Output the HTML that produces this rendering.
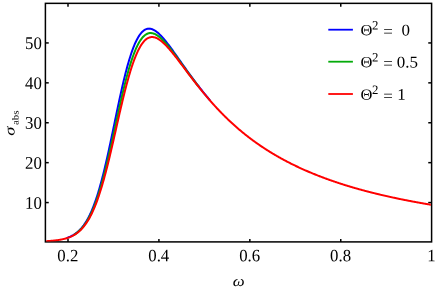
<!DOCTYPE html>
<html><head><meta charset="utf-8"><style>
html,body{margin:0;padding:0;background:#fff;}
body{width:436px;height:290px;overflow:hidden;}
svg{display:block;will-change:transform;}
text{text-rendering:geometricPrecision;font-family:"Liberation Serif",serif;font-size:17.3px;fill:#000;}
</style></head><body>
<svg width="436" height="290" viewBox="0 0 436 290">
<rect width="436" height="290" fill="#fff"/>
<defs><clipPath id="c"><rect x="46.15" y="3.35" width="384.70" height="238.25"/></clipPath></defs>
<g stroke="#000" stroke-width="1.5" fill="none">
<rect x="45.4" y="3.35" width="386.20" height="238.55"/>
<line x1="68.00" y1="241.9" x2="68.00" y2="239.0"/>
<line x1="68.00" y1="3.35" x2="68.00" y2="6.7"/>
<line x1="158.92" y1="241.9" x2="158.92" y2="239.0"/>
<line x1="158.92" y1="3.35" x2="158.92" y2="6.7"/>
<line x1="249.84" y1="241.9" x2="249.84" y2="239.0"/>
<line x1="249.84" y1="3.35" x2="249.84" y2="6.7"/>
<line x1="340.76" y1="241.9" x2="340.76" y2="239.0"/>
<line x1="340.76" y1="3.35" x2="340.76" y2="6.7"/>
<line x1="45.4" y1="202.57" x2="48.75" y2="202.57"/>
<line x1="431.6" y1="202.57" x2="428.25" y2="202.57"/>
<line x1="45.4" y1="162.66" x2="48.75" y2="162.66"/>
<line x1="431.6" y1="162.66" x2="428.25" y2="162.66"/>
<line x1="45.4" y1="122.76" x2="48.75" y2="122.76"/>
<line x1="431.6" y1="122.76" x2="428.25" y2="122.76"/>
<line x1="45.4" y1="82.85" x2="48.75" y2="82.85"/>
<line x1="431.6" y1="82.85" x2="428.25" y2="82.85"/>
<line x1="45.4" y1="42.94" x2="48.75" y2="42.94"/>
<line x1="431.6" y1="42.94" x2="428.25" y2="42.94"/>
</g>
<g fill="none" stroke-width="2" stroke-linejoin="round" clip-path="url(#c)">
<path stroke="#0000ff" d="M66.50,238.07 L67.06,237.88 L67.61,237.68 L68.17,237.48 L68.72,237.26 L69.27,237.04 L69.83,236.80 L70.38,236.55 L70.93,236.29 L71.49,236.01 L72.04,235.72 L72.60,235.42 L73.15,235.10 L73.70,234.76 L74.26,234.41 L74.81,234.04 L75.37,233.66 L75.92,233.25 L76.47,232.83 L77.03,232.39 L77.58,231.93 L78.14,231.44 L78.69,230.94 L79.24,230.41 L79.80,229.85 L80.35,229.28 L80.91,228.67 L81.46,228.05 L82.01,227.39 L82.57,226.71 L83.12,226.00 L83.68,225.26 L84.23,224.49 L84.78,223.69 L85.34,222.86 L85.89,221.99 L86.45,221.09 L87.00,220.16 L87.55,219.19 L88.11,218.18 L88.66,217.14 L89.21,216.06 L89.77,214.94 L90.32,213.77 L90.88,212.57 L91.43,211.33 L91.98,210.04 L92.54,208.71 L93.09,207.34 L93.65,205.92 L94.20,204.46 L94.75,202.95 L95.31,201.40 L95.86,199.80 L96.42,198.16 L96.97,196.47 L97.52,194.73 L98.08,192.95 L98.63,191.12 L99.19,189.25 L99.74,187.33 L100.29,185.37 L100.85,183.36 L101.40,181.31 L101.96,179.22 L102.51,177.09 L103.06,174.91 L103.62,172.69 L104.17,170.44 L104.72,168.14 L105.28,165.81 L105.83,163.44 L106.39,161.04 L106.94,158.61 L107.49,156.14 L108.05,153.65 L108.60,151.12 L109.16,148.58 L109.71,146.01 L110.26,143.41 L110.82,140.80 L111.37,138.17 L111.93,135.53 L112.48,132.88 L113.03,130.21 L113.59,127.54 L114.14,124.87 L114.70,122.19 L115.25,119.51 L115.80,116.84 L116.36,114.18 L116.91,111.52 L117.47,108.88 L118.02,106.25 L118.57,103.64 L119.13,101.05 L119.68,98.48 L120.24,95.94 L120.79,93.42 L121.34,90.93 L121.90,88.48 L122.45,86.06 L123.00,83.67 L123.56,81.32 L124.11,79.01 L124.67,76.75 L125.22,74.52 L125.77,72.35 L126.33,70.21 L126.88,68.13 L127.44,66.09 L127.99,64.11 L128.54,62.17 L129.10,60.29 L129.65,58.46 L130.21,56.68 L130.76,54.96 L131.31,53.30 L131.87,51.68 L132.42,50.13 L132.98,48.63 L133.53,47.19 L134.08,45.80 L134.64,44.47 L135.19,43.20 L135.75,41.98 L136.30,40.82 L136.85,39.72 L137.41,38.67 L137.96,37.68 L138.51,36.74 L139.07,35.85 L139.62,35.03 L140.18,34.25 L140.73,33.53 L141.28,32.86 L141.84,32.25 L142.39,31.68 L142.95,31.17 L143.50,30.71 L144.05,30.29 L144.61,29.93 L145.16,29.61 L145.72,29.34 L146.27,29.11 L146.82,28.93 L147.38,28.79 L147.93,28.69 L148.49,28.64 L149.04,28.62 L149.59,28.64 L150.15,28.70 L150.70,28.80 L151.26,28.93 L151.81,29.10 L152.36,29.30 L152.92,29.53 L153.47,29.79 L154.03,30.08 L154.58,30.40 L155.13,30.75 L155.69,31.12 L156.24,31.52 L156.79,31.94 L157.35,32.38 L157.90,32.85 L158.46,33.34 L159.01,33.85 L159.56,34.37 L160.12,34.92 L160.67,35.48 L161.23,36.06 L161.78,36.65 L162.33,37.26 L162.89,37.88 L163.44,38.52 L164.00,39.17 L164.55,39.83 L165.10,40.50 L165.66,41.18 L166.21,41.87 L166.77,42.57 L167.32,43.28 L167.87,43.99 L168.43,44.71 L168.98,45.44 L169.54,46.18 L170.09,46.92 L170.64,47.67 L171.20,48.43 L171.75,49.18 L172.30,49.94 L172.86,50.71 L173.41,51.48 L173.97,52.25 L174.52,53.03 L175.07,53.80 L175.63,54.58 L176.18,55.37 L176.74,56.15 L177.29,56.93 L177.84,57.72 L178.40,58.51 L178.95,59.29 L179.51,60.08 L180.06,60.87 L180.61,61.65 L181.17,62.44 L181.72,63.23 L182.28,64.01 L182.83,64.80 L183.38,65.58 L183.94,66.36 L184.49,67.15 L185.05,67.93 L185.60,68.70 L186.15,69.48 L186.71,70.26 L187.26,71.03 L187.82,71.80 L188.37,72.57 L188.92,73.33 L189.48,74.10 L190.03,74.86 L190.58,75.62 L191.14,76.38 L191.69,77.13 L192.25,77.88 L192.80,78.63 L193.35,79.38 L193.91,80.12 L194.46,80.86 L195.02,81.60 L195.57,82.33 L196.12,83.06 L196.68,83.79 L197.23,84.51 L197.79,85.23 L198.34,85.95 L198.89,86.67 L199.45,87.38 L200.00,88.09 L200.56,88.79 L201.11,89.49 L201.66,90.19 L202.22,90.89 L202.77,91.58 L203.33,92.27 L203.88,92.95 L204.43,93.63 L204.99,94.31 L205.54,94.98 L206.09,95.65 L206.65,96.32 L207.20,96.98 L207.76,97.64 L208.31,98.29 L208.86,98.94 L209.42,99.59 L209.97,100.24"/>
<path stroke="#04ab0a" d="M73.70,235.00 L74.26,234.67 L74.81,234.32 L75.37,233.95 L75.92,233.57 L76.47,233.16 L77.03,232.74 L77.58,232.30 L78.14,231.84 L78.69,231.36 L79.24,230.86 L79.80,230.34 L80.35,229.79 L80.91,229.22 L81.46,228.62 L82.01,228.00 L82.57,227.36 L83.12,226.69 L83.68,225.99 L84.23,225.26 L84.78,224.51 L85.34,223.72 L85.89,222.91 L86.45,222.06 L87.00,221.18 L87.55,220.27 L88.11,219.32 L88.66,218.34 L89.21,217.32 L89.77,216.27 L90.32,215.18 L90.88,214.05 L91.43,212.88 L91.98,211.67 L92.54,210.43 L93.09,209.14 L93.65,207.81 L94.20,206.44 L94.75,205.03 L95.31,203.58 L95.86,202.08 L96.42,200.54 L96.97,198.96 L97.52,197.33 L98.08,195.66 L98.63,193.95 L99.19,192.20 L99.74,190.40 L100.29,188.57 L100.85,186.69 L101.40,184.77 L101.96,182.81 L102.51,180.81 L103.06,178.77 L103.62,176.69 L104.17,174.57 L104.72,172.42 L105.28,170.23 L105.83,168.01 L106.39,165.75 L106.94,163.46 L107.49,161.14 L108.05,158.79 L108.60,156.41 L109.16,154.01 L109.71,151.58 L110.26,149.13 L110.82,146.66 L111.37,144.17 L111.93,141.67 L112.48,139.15 L113.03,136.61 L113.59,134.07 L114.14,131.52 L114.70,128.97 L115.25,126.41 L115.80,123.85 L116.36,121.30 L116.91,118.75 L117.47,116.20 L118.02,113.67 L118.57,111.15 L119.13,108.64 L119.68,106.15 L120.24,103.68 L120.79,101.23 L121.34,98.80 L121.90,96.40 L122.45,94.02 L123.00,91.68 L123.56,89.36 L124.11,87.08 L124.67,84.83 L125.22,82.62 L125.77,80.45 L126.33,78.32 L126.88,76.23 L127.44,74.18 L127.99,72.18 L128.54,70.22 L129.10,68.30 L129.65,66.44 L130.21,64.62 L130.76,62.85 L131.31,61.13 L131.87,59.46 L132.42,57.84 L132.98,56.28 L133.53,54.76 L134.08,53.30 L134.64,51.89 L135.19,50.53 L135.75,49.22 L136.30,47.97 L136.85,46.77 L137.41,45.62 L137.96,44.53 L138.51,43.48 L139.07,42.49 L139.62,41.56 L140.18,40.67 L140.73,39.84 L141.28,39.06 L141.84,38.33 L142.39,37.65 L142.95,37.02 L143.50,36.44 L144.05,35.91 L144.61,35.43 L145.16,35.00 L145.72,34.61 L146.27,34.26 L146.82,33.97 L147.38,33.71 L147.93,33.50 L148.49,33.33 L149.04,33.20 L149.59,33.11 L150.15,33.06 L150.70,33.05 L151.26,33.08 L151.81,33.14 L152.36,33.23 L152.92,33.36 L153.47,33.52 L154.03,33.71 L154.58,33.93 L155.13,34.18 L155.69,34.46 L156.24,34.77 L156.79,35.10 L157.35,35.46 L157.90,35.84 L158.46,36.25 L159.01,36.67 L159.56,37.12 L160.12,37.58 L160.67,38.07 L161.23,38.57 L161.78,39.09 L162.33,39.63 L162.89,40.18 L163.44,40.75 L164.00,41.33 L164.55,41.92 L165.10,42.53 L165.66,43.15 L166.21,43.78 L166.77,44.42 L167.32,45.07 L167.87,45.73 L168.43,46.40 L168.98,47.08 L169.54,47.77 L170.09,48.46 L170.64,49.16 L171.20,49.87 L171.75,50.58 L172.30,51.30 L172.86,52.02 L173.41,52.75 L173.97,53.48 L174.52,54.21 L175.07,54.95 L175.63,55.69 L176.18,56.44 L176.74,57.19 L177.29,57.94 L177.84,58.69 L178.40,59.45 L178.95,60.20 L179.51,60.96 L180.06,61.72 L180.61,62.47 L181.17,63.23 L181.72,63.99 L182.28,64.75 L182.83,65.51 L183.38,66.27 L183.94,67.03 L184.49,67.79 L185.05,68.55 L185.60,69.31 L186.15,70.06 L186.71,70.82 L187.26,71.57 L187.82,72.32 L188.37,73.07 L188.92,73.82 L189.48,74.57 L190.03,75.31 L190.58,76.06 L191.14,76.80 L191.69,77.54 L192.25,78.27 L192.80,79.01 L193.35,79.74 L193.91,80.47 L194.46,81.20 L195.02,81.92 L195.57,82.64 L196.12,83.36 L196.68,84.08 L197.23,84.79 L197.79,85.50 L198.34,86.21 L198.89,86.92"/>
<path stroke="#ff0000" d="M44.90,241.26 L45.45,241.26 L46.01,241.22 L46.56,241.19 L47.12,241.15 L47.67,241.11 L48.22,241.08 L48.78,241.04 L49.33,240.99 L49.89,240.95 L50.44,240.90 L50.99,240.86 L51.55,240.81 L52.10,240.76 L52.66,240.70 L53.21,240.65 L53.76,240.59 L54.32,240.53 L54.87,240.47 L55.42,240.41 L55.98,240.34 L56.53,240.27 L57.09,240.20 L57.64,240.12 L58.19,240.04 L58.75,239.96 L59.30,239.87 L59.86,239.78 L60.41,239.68 L60.96,239.58 L61.52,239.48 L62.07,239.37 L62.63,239.25 L63.18,239.13 L63.73,239.00 L64.29,238.87 L64.84,238.73 L65.40,238.58 L65.95,238.42 L66.50,238.26 L67.06,238.09 L67.61,237.90 L68.17,237.71 L68.72,237.52 L69.27,237.31 L69.83,237.09 L70.38,236.86 L70.93,236.61 L71.49,236.36 L72.04,236.09 L72.60,235.81 L73.15,235.52 L73.70,235.22 L74.26,234.90 L74.81,234.56 L75.37,234.21 L75.92,233.84 L76.47,233.45 L77.03,233.05 L77.58,232.63 L78.14,232.19 L78.69,231.73 L79.24,231.25 L79.80,230.75 L80.35,230.23 L80.91,229.69 L81.46,229.12 L82.01,228.54 L82.57,227.92 L83.12,227.28 L83.68,226.62 L84.23,225.93 L84.78,225.22 L85.34,224.47 L85.89,223.70 L86.45,222.89 L87.00,222.06 L87.55,221.20 L88.11,220.30 L88.66,219.37 L89.21,218.41 L89.77,217.42 L90.32,216.39 L90.88,215.32 L91.43,214.22 L91.98,213.08 L92.54,211.90 L93.09,210.69 L93.65,209.44 L94.20,208.15 L94.75,206.81 L95.31,205.44 L95.86,204.03 L96.42,202.58 L96.97,201.09 L97.52,199.56 L98.08,197.99 L98.63,196.38 L99.19,194.73 L99.74,193.04 L100.29,191.31 L100.85,189.54 L101.40,187.73 L101.96,185.89 L102.51,184.00 L103.06,182.08 L103.62,180.12 L104.17,178.13 L104.72,176.10 L105.28,174.03 L105.83,171.94 L106.39,169.80 L106.94,167.64 L107.49,165.45 L108.05,163.23 L108.60,160.98 L109.16,158.70 L109.71,156.40 L110.26,154.08 L110.82,151.73 L111.37,149.37 L111.93,146.98 L112.48,144.59 L113.03,142.17 L113.59,139.75 L114.14,137.31 L114.70,134.87 L115.25,132.42 L115.80,129.97 L116.36,127.52 L116.91,125.07 L117.47,122.62 L118.02,120.18 L118.57,117.74 L119.13,115.31 L119.68,112.90 L120.24,110.50 L120.79,108.12 L121.34,105.75 L121.90,103.41 L122.45,101.08 L123.00,98.78 L123.56,96.51 L124.11,94.26 L124.67,92.05 L125.22,89.86 L125.77,87.71 L126.33,85.59 L126.88,83.50 L127.44,81.46 L127.99,79.45 L128.54,77.48 L129.10,75.55 L129.65,73.66 L130.21,71.82 L130.76,70.02 L131.31,68.27 L131.87,66.56 L132.42,64.89 L132.98,63.28 L133.53,61.71 L134.08,60.18 L134.64,58.71 L135.19,57.29 L135.75,55.91 L136.30,54.58 L136.85,53.31 L137.41,52.08 L137.96,50.90 L138.51,49.77 L139.07,48.69 L139.62,47.66 L140.18,46.69 L140.73,45.76 L141.28,44.88 L141.84,44.05 L142.39,43.28 L142.95,42.55 L143.50,41.87 L144.05,41.23 L144.61,40.65 L145.16,40.11 L145.72,39.62 L146.27,39.17 L146.82,38.77 L147.38,38.41 L147.93,38.10 L148.49,37.83 L149.04,37.60 L149.59,37.41 L150.15,37.26 L150.70,37.15 L151.26,37.07 L151.81,37.04 L152.36,37.03 L152.92,37.07 L153.47,37.14 L154.03,37.24 L154.58,37.37 L155.13,37.53 L155.69,37.72 L156.24,37.94 L156.79,38.19 L157.35,38.46 L157.90,38.76 L158.46,39.09 L159.01,39.43 L159.56,39.80 L160.12,40.20 L160.67,40.61 L161.23,41.04 L161.78,41.49 L162.33,41.96 L162.89,42.44 L163.44,42.94 L164.00,43.46 L164.55,43.99 L165.10,44.54 L165.66,45.10 L166.21,45.67 L166.77,46.26 L167.32,46.85 L167.87,47.46 L168.43,48.08 L168.98,48.70 L169.54,49.34 L170.09,49.98 L170.64,50.64 L171.20,51.30 L171.75,51.96 L172.30,52.64 L172.86,53.32 L173.41,54.01 L173.97,54.70 L174.52,55.39 L175.07,56.10 L175.63,56.80 L176.18,57.51 L176.74,58.23 L177.29,58.94 L177.84,59.66 L178.40,60.38 L178.95,61.11 L179.51,61.84 L180.06,62.56 L180.61,63.30 L181.17,64.03 L181.72,64.76 L182.28,65.49 L182.83,66.23 L183.38,66.96 L183.94,67.70 L184.49,68.44 L185.05,69.17 L185.60,69.91 L186.15,70.64 L186.71,71.38 L187.26,72.11 L187.82,72.84 L188.37,73.58 L188.92,74.31 L189.48,75.04 L190.03,75.76 L190.58,76.49 L191.14,77.22 L191.69,77.94 L192.25,78.66 L192.80,79.38 L193.35,80.10 L193.91,80.82 L194.46,81.53 L195.02,82.24 L195.57,82.95 L196.12,83.66 L196.68,84.37 L197.23,85.07 L197.79,85.77 L198.34,86.47 L198.89,87.16 L199.45,87.86 L200.00,88.55 L200.56,89.23 L201.11,89.92 L201.66,90.60 L202.22,91.28 L202.77,91.96 L203.33,92.63 L203.88,93.30 L204.43,93.97 L204.99,94.63 L205.54,95.29 L206.09,95.95 L206.65,96.61 L207.20,97.26 L207.76,97.91 L208.31,98.55 L208.86,99.20 L209.42,99.84 L209.97,100.47 L210.53,101.11 L211.08,101.74 L211.63,102.36 L212.19,102.99 L212.74,103.61 L213.30,104.22 L213.85,104.84 L214.40,105.45 L214.96,106.06 L215.51,106.66 L216.07,107.26 L216.62,107.86 L217.17,108.45 L217.73,109.05 L218.28,109.63 L218.84,110.22 L219.39,110.80 L219.94,111.38 L220.50,111.95 L221.05,112.52 L221.61,113.09 L222.16,113.66 L222.71,114.22 L223.27,114.78 L223.82,115.34 L224.37,115.89 L224.93,116.44 L225.48,116.98 L226.04,117.53 L226.59,118.07 L227.14,118.60 L227.70,119.14 L228.25,119.67 L228.81,120.20 L229.36,120.72 L229.91,121.24 L230.47,121.76 L231.02,122.28 L231.58,122.79 L232.13,123.30 L232.68,123.80 L233.24,124.31 L233.79,124.81 L234.35,125.31 L234.90,125.80 L235.45,126.29 L236.01,126.78 L236.56,127.27 L237.12,127.75 L237.67,128.23 L238.22,128.71 L238.78,129.18 L239.33,129.66 L239.88,130.12 L240.44,130.59 L240.99,131.05 L241.55,131.52 L242.10,131.97 L242.65,132.43 L243.21,132.88 L243.76,133.33 L244.32,133.78 L244.87,134.22 L245.42,134.67 L245.98,135.11 L246.53,135.54 L247.09,135.98 L247.64,136.41 L248.19,136.84 L248.75,137.27 L249.30,137.69 L249.86,138.11 L250.41,138.53 L250.96,138.95 L251.52,139.36 L252.07,139.78 L252.63,140.19 L253.18,140.59 L253.73,141.00 L254.29,141.40 L254.84,141.80 L255.39,142.20 L255.95,142.60 L256.50,142.99 L257.06,143.38 L257.61,143.77 L258.16,144.16 L258.72,144.54 L259.27,144.92 L259.83,145.30 L260.38,145.68 L260.93,146.06 L261.49,146.43 L262.04,146.80 L262.60,147.17 L263.15,147.54 L263.70,147.90 L264.26,148.27 L264.81,148.63 L265.37,148.99 L265.92,149.35 L266.47,149.70 L267.03,150.05 L267.58,150.40 L268.14,150.75 L268.69,151.10 L269.24,151.45 L269.80,151.79 L270.35,152.13 L270.91,152.47 L271.46,152.81 L272.01,153.14 L272.57,153.48 L273.12,153.81 L273.67,154.14 L274.23,154.47 L274.78,154.80 L275.34,155.12 L275.89,155.44 L276.44,155.76 L277.00,156.08 L277.55,156.40 L278.11,156.72 L278.66,157.03 L279.21,157.34 L279.77,157.66 L280.32,157.96 L280.88,158.27 L281.43,158.58 L281.98,158.88 L282.54,159.18 L283.09,159.49 L283.65,159.78 L284.20,160.08 L284.75,160.38 L285.31,160.67 L285.86,160.97 L286.42,161.26 L286.97,161.55 L287.52,161.84 L288.08,162.12 L288.63,162.41 L289.18,162.69 L289.74,162.97 L290.29,163.25 L290.85,163.53 L291.40,163.81 L291.95,164.09 L292.51,164.36 L293.06,164.64 L293.62,164.91 L294.17,165.18 L294.72,165.45 L295.28,165.72 L295.83,165.98 L296.39,166.25 L296.94,166.51 L297.49,166.77 L298.05,167.03 L298.60,167.29 L299.16,167.55 L299.71,167.81 L300.26,168.06 L300.82,168.32 L301.37,168.57 L301.93,168.82 L302.48,169.07 L303.03,169.32 L303.59,169.57 L304.14,169.82 L304.70,170.06 L305.25,170.31 L305.80,170.55 L306.36,170.79 L306.91,171.03 L307.46,171.27 L308.02,171.51 L308.57,171.75 L309.13,171.98 L309.68,172.22 L310.23,172.45 L310.79,172.68 L311.34,172.91 L311.90,173.14 L312.45,173.37 L313.00,173.60 L313.56,173.83 L314.11,174.05 L314.67,174.28 L315.22,174.50 L315.77,174.72 L316.33,174.94 L316.88,175.16 L317.44,175.38 L317.99,175.60 L318.54,175.82 L319.10,176.03 L319.65,176.25 L320.21,176.46 L320.76,176.67 L321.31,176.88 L321.87,177.09 L322.42,177.30 L322.97,177.51 L323.53,177.72 L324.08,177.93 L324.64,178.13 L325.19,178.34 L325.74,178.54 L326.30,178.74 L326.85,178.94 L327.41,179.15 L327.96,179.35 L328.51,179.54 L329.07,179.74 L329.62,179.94 L330.18,180.14 L330.73,180.33 L331.28,180.52 L331.84,180.72 L332.39,180.91 L332.95,181.10 L333.50,181.29 L334.05,181.48 L334.61,181.67 L335.16,181.86 L335.72,182.05 L336.27,182.23 L336.82,182.42 L337.38,182.60 L337.93,182.79 L338.49,182.97 L339.04,183.15 L339.59,183.33 L340.15,183.51 L340.70,183.69 L341.25,183.87 L341.81,184.05 L342.36,184.23 L342.92,184.40 L343.47,184.58 L344.02,184.75 L344.58,184.93 L345.13,185.10 L345.69,185.27 L346.24,185.44 L346.79,185.61 L347.35,185.78 L347.90,185.95 L348.46,186.12 L349.01,186.29 L349.56,186.46 L350.12,186.62 L350.67,186.79 L351.23,186.95 L351.78,187.12 L352.33,187.28 L352.89,187.44 L353.44,187.60 L354.00,187.77 L354.55,187.93 L355.10,188.09 L355.66,188.24 L356.21,188.40 L356.76,188.56 L357.32,188.72 L357.87,188.87 L358.43,189.03 L358.98,189.18 L359.53,189.34 L360.09,189.49 L360.64,189.65 L361.20,189.80 L361.75,189.95 L362.30,190.10 L362.86,190.25 L363.41,190.40 L363.97,190.55 L364.52,190.70 L365.07,190.85 L365.63,190.99 L366.18,191.14 L366.74,191.29 L367.29,191.43 L367.84,191.57 L368.40,191.72 L368.95,191.86 L369.51,192.01 L370.06,192.15 L370.61,192.29 L371.17,192.43 L371.72,192.57 L372.28,192.71 L372.83,192.85 L373.38,192.99 L373.94,193.13 L374.49,193.26 L375.04,193.40 L375.60,193.54 L376.15,193.67 L376.71,193.81 L377.26,193.94 L377.81,194.08 L378.37,194.21 L378.92,194.34 L379.48,194.48 L380.03,194.61 L380.58,194.74 L381.14,194.87 L381.69,195.00 L382.25,195.13 L382.80,195.26 L383.35,195.39 L383.91,195.52 L384.46,195.64 L385.02,195.77 L385.57,195.90 L386.12,196.02 L386.68,196.15 L387.23,196.27 L387.79,196.40 L388.34,196.52 L388.89,196.65 L389.45,196.77 L390.00,196.89 L390.55,197.01 L391.11,197.14 L391.66,197.26 L392.22,197.38 L392.77,197.50 L393.32,197.62 L393.88,197.74 L394.43,197.85 L394.99,197.97 L395.54,198.09 L396.09,198.21 L396.65,198.32 L397.20,198.44 L397.76,198.56 L398.31,198.67 L398.86,198.79 L399.42,198.90 L399.97,199.02 L400.53,199.13 L401.08,199.24 L401.63,199.36 L402.19,199.47 L402.74,199.58 L403.30,199.69 L403.85,199.80 L404.40,199.91 L404.96,200.02 L405.51,200.13 L406.07,200.24 L406.62,200.35 L407.17,200.46 L407.73,200.57 L408.28,200.67 L408.83,200.78 L409.39,200.89 L409.94,201.00 L410.50,201.10 L411.05,201.21 L411.60,201.31 L412.16,201.42 L412.71,201.52 L413.27,201.62 L413.82,201.73 L414.37,201.83 L414.93,201.93 L415.48,202.04 L416.04,202.14 L416.59,202.24 L417.14,202.34 L417.70,202.44 L418.25,202.54 L418.81,202.64 L419.36,202.74 L419.91,202.84 L420.47,202.94 L421.02,203.04 L421.58,203.14 L422.13,203.24 L422.68,203.33 L423.24,203.43 L423.79,203.53 L424.34,203.62 L424.90,203.72 L425.45,203.82 L426.01,203.91 L426.56,204.01 L427.11,204.10 L427.67,204.19 L428.22,204.29 L428.78,204.38 L429.33,204.48 L429.88,204.57 L430.44,204.66 L430.99,204.75 L431.55,204.85 L432.10,204.94"/>
</g>
<text transform="translate(67.80,261.30) rotate(0.03) scale(1,1.03)" text-anchor="middle" style="font-size:16.8px" >0.2</text>
<text transform="translate(158.72,261.30) rotate(0.03) scale(1,1.03)" text-anchor="middle" style="font-size:16.8px" >0.4</text>
<text transform="translate(249.64,261.30) rotate(0.03) scale(1,1.03)" text-anchor="middle" style="font-size:16.8px" >0.6</text>
<text transform="translate(340.56,261.30) rotate(0.03) scale(1,1.03)" text-anchor="middle" style="font-size:16.8px" >0.8</text>
<text transform="translate(431.48,261.30) rotate(0.03) scale(1,1.03)" text-anchor="middle" style="font-size:16.8px" >1</text>
<text transform="translate(41.80,208.67) rotate(0.03) scale(1,1.06)" text-anchor="end" style="font-size:16.8px" >10</text>
<text transform="translate(41.80,168.76) rotate(0.03) scale(1,1.06)" text-anchor="end" style="font-size:16.8px" >20</text>
<text transform="translate(41.80,128.86) rotate(0.03) scale(1,1.06)" text-anchor="end" style="font-size:16.8px" >30</text>
<text transform="translate(41.80,88.95) rotate(0.03) scale(1,1.06)" text-anchor="end" style="font-size:16.8px" >40</text>
<text transform="translate(41.80,49.04) rotate(0.03) scale(1,1.06)" text-anchor="end" style="font-size:16.8px" >50</text>
<text transform="translate(232.7,285.9) scale(1,0.9)" font-style="italic" style="font-size:16.8px">ω</text>
<g transform="translate(14.6,135.8) rotate(-89.96)"><text transform="scale(1.25,1)" font-style="italic" style="font-size:14.7px">σ</text><text transform="translate(10.7,3.85) scale(1.02,0.86)" style="font-size:10.8px">abs</text></g>
<g stroke-width="1.8">
<line x1="328.3" y1="29.7" x2="352.9" y2="29.7" stroke="#0000ff"/>
<line x1="328.3" y1="61.7" x2="352.9" y2="61.7" stroke="#04ab0a"/>
<line x1="328.3" y1="94.0" x2="352.9" y2="94.0" stroke="#ff0000"/>
</g>
<text transform="translate(360.60,35.30) rotate(0.03) scale(1,0.945)" text-anchor="start" style="font-size:16.5px" >Θ</text>
<text transform="translate(372.00,29.60) rotate(0.03) scale(1,1.0)" text-anchor="start" style="font-size:12.8px" >2</text>
<text transform="translate(383.20,37.10) rotate(0.03) scale(1,1.0)" text-anchor="start" style="font-size:17px" >=</text>
<text transform="translate(401.50,35.40) rotate(0.03) scale(1,0.96)" text-anchor="start" style="font-size:17px" >0</text>
<text transform="translate(360.60,67.30) rotate(0.03) scale(1,0.945)" text-anchor="start" style="font-size:16.5px" >Θ</text>
<text transform="translate(372.00,61.60) rotate(0.03) scale(1,1.0)" text-anchor="start" style="font-size:12.8px" >2</text>
<text transform="translate(383.20,69.10) rotate(0.03) scale(1,1.0)" text-anchor="start" style="font-size:17px" >=</text>
<text transform="translate(396.70,67.40) rotate(0.03) scale(1,0.96)" text-anchor="start" style="font-size:17px" >0.5</text>
<text transform="translate(360.60,99.70) rotate(0.03) scale(1,0.945)" text-anchor="start" style="font-size:16.5px" >Θ</text>
<text transform="translate(372.00,94.00) rotate(0.03) scale(1,1.0)" text-anchor="start" style="font-size:12.8px" >2</text>
<text transform="translate(383.20,101.50) rotate(0.03) scale(1,1.0)" text-anchor="start" style="font-size:17px" >=</text>
<text transform="translate(397.20,99.80) rotate(0.03) scale(1,0.96)" text-anchor="start" style="font-size:17px" >1</text>
</svg>
</body></html>
